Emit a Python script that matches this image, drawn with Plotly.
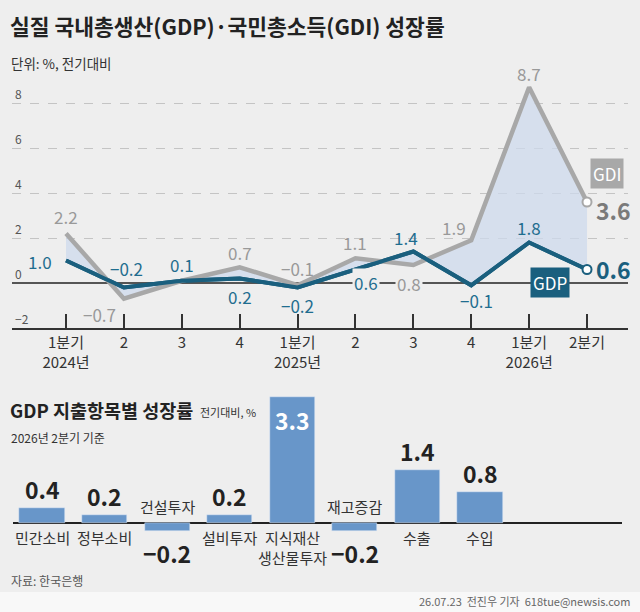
import plotly.graph_objects as go

# 데이터: 분기별 성장률 (전기대비, %)
QUARTERS = ["1분기<br>2024년", "2", "3", "4", "1분기<br>2025년", "2", "3", "4", "1분기<br>2026년", "2분기"]
GDP = [1.0, -0.2, 0.1, 0.2, -0.2, 0.6, 1.4, -0.1, 1.8, 0.6]
GDI = [2.2, -0.7, 0.1, 0.7, -0.1, 1.1, 0.8, 1.9, 8.7, 3.6]
Y_TICKS = [-2, 0, 2, 4, 6, 8]

# 지출항목별 성장률 (2026년 2분기)
ITEMS = ["민간소비", "정부소비", "건설투자", "설비투자", "지식재산<br>생산물투자", "재고증감", "수출", "수입"]
ITEM_VALUES = [0.4, 0.2, -0.2, 0.2, 3.3, -0.2, 1.4, 0.8]

BG = "#eeeeee"
GDP_C = "#1a5f7e"
GDP_TXT = "#1f6d8f"
GDI_C = "#a8a8a8"
GDI_TXT = "#999999"
BAR_C = "#6896c9"
KR = "Noto Sans CJK KR"
NUM = "Noto Sans CJK KR"

# 라벨 위치 오프셋 (xshift, yshift) - None이면 생략
GDI_OFF = [(0, 17), (-24, -16), None, (0, 15), (0, 17), (0, 16), (-4, -18), (-17, 13), (0, 14), None]
GDP_OFF = [(-26, -1), (3, 19), (0, 16), (0, -18), (0, -18), (11, -13), (-7, 14), (5, -15), (0, 15), None]

x_idx = list(range(len(QUARTERS)))

fig = go.Figure()
fig.add_trace(go.Scatter(x=x_idx, y=GDP, mode="lines", line=dict(color=GDP_C, width=4),
                         showlegend=False, hoverinfo="skip"))
fig.add_trace(go.Scatter(x=x_idx, y=GDI, mode="lines", line=dict(color=GDI_C, width=4.5),
                         fill="tonexty", fillcolor="rgba(205,218,236,0.75)",
                         showlegend=False, hoverinfo="skip"))
# GDP 선을 다시 위에 그림
fig.add_trace(go.Scatter(x=x_idx, y=GDP, mode="lines", line=dict(color=GDP_C, width=4),
                         showlegend=False, hoverinfo="skip"))
# 마지막 점 마커
fig.add_trace(go.Scatter(x=[x_idx[-1]], y=[GDI[-1]], mode="markers",
                         marker=dict(color="white", size=9, line=dict(color=GDI_C, width=2)),
                         showlegend=False, hoverinfo="skip"))
fig.add_trace(go.Scatter(x=[x_idx[-1]], y=[GDP[-1]], mode="markers",
                         marker=dict(color="white", size=9, line=dict(color=GDP_C, width=2)),
                         showlegend=False, hoverinfo="skip"))

# 막대그래프
bar_idx = list(range(len(ITEMS)))
fig.add_trace(go.Bar(x=bar_idx, y=ITEM_VALUES, marker_color=BAR_C, width=0.72,
                     xaxis="x2", yaxis="y2", showlegend=False, hoverinfo="skip"))

ann = []
for i, (v, off) in enumerate(zip(GDI, GDI_OFF)):
    if off is None:
        continue
    ann.append(dict(x=i, y=v, xref="x", yref="y", text=f"{v:.1f}".replace("-", "−"), showarrow=False,
                    xshift=off[0], yshift=off[1], font=dict(family=NUM, size=17, color=GDI_TXT),
                    bgcolor=BG if i == 6 else None))
for i, (v, off) in enumerate(zip(GDP, GDP_OFF)):
    if off is None:
        continue
    ann.append(dict(x=i, y=v, xref="x", yref="y", text=f"{v:.1f}".replace("-", "−"), showarrow=False,
                    xshift=off[0], yshift=off[1], font=dict(family=NUM, size=17, color=GDP_TXT),
                    bgcolor=BG if i == 5 else None))

# 끝 라벨
ann.append(dict(x=x_idx[-1], y=GDI[-1], xref="x", yref="y", text=f"<b>{GDI[-1]:.1f}</b>", showarrow=False,
                xanchor="left", xshift=7, yshift=-8, font=dict(family=NUM, size=23, color="#7a7a7a")))
ann.append(dict(x=x_idx[-1], y=GDP[-1], xref="x", yref="y", text=f"<b>{GDP[-1]:.1f}</b>", showarrow=False,
                xanchor="left", xshift=7, yshift=1, font=dict(family=NUM, size=23, color=GDP_C)))
ann.append(dict(x=x_idx[-1], y=GDI[-1], xref="x", yref="y", text="GDI", showarrow=False,
                xshift=20, yshift=29, font=dict(family=NUM, size=17, color="white"),
                bgcolor=GDI_C, borderpad=2))
ann.append(dict(x=x_idx[-1], y=GDP[-1], xref="x", yref="y", text="GDP", showarrow=False,
                xshift=-37, yshift=-13, font=dict(family=NUM, size=17, color="white"),
                bgcolor=GDP_C, borderpad=2))

# 막대 라벨
top = max(ITEM_VALUES)
for i, (name, v) in enumerate(zip(ITEMS, ITEM_VALUES)):
    txt = f"<b>{v:.1f}</b>".replace("-", "−")
    if v == top:
        ann.append(dict(x=i, y=v, xref="x2", yref="y2", text=txt, showarrow=False, yanchor="top",
                        yshift=-4, font=dict(family=NUM, size=23, color="white")))
    elif v >= 0:
        ann.append(dict(x=i, y=v, xref="x2", yref="y2", text=txt, showarrow=False, yanchor="bottom",
                        yshift=0, font=dict(family=NUM, size=23, color="#222")))
    else:
        ann.append(dict(x=i, y=v, xref="x2", yref="y2", text=txt, showarrow=False, yanchor="top",
                        yshift=-3, font=dict(family=NUM, size=23, color="#222")))
    ann.append(dict(x=i, y=0, xref="x2", yref="y2", text=name, showarrow=False,
                    yanchor="top" if v >= 0 else "bottom", yshift=-2 if v >= 0 else 4,
                    font=dict(family=KR, size=15, color="#333")))

# 제목 및 각종 텍스트
def ptxt(text, x, y, size, color="#222", xanchor="left", bold=False):
    return dict(text=f"<b>{text}</b>" if bold else text, x=x / 640, y=1 - y / 612, xref="paper", yref="paper",
                xanchor=xanchor, yanchor="middle", showarrow=False, font=dict(family=KR, size=size, color=color))

ann += [
    ptxt("실질 국내총생산(GDP)·국민총소득(GDI) 성장률", 8, 26, 21.5, bold=True),
    ptxt("단위: %, 전기대비", 9, 63, 13.5, "#333"),
    ptxt("GDP 지출항목별 성장률", 8, 410, 18.5, bold=True),
    ptxt("전기대비, %", 198, 412, 11, "#333"),
    ptxt("2026년 2분기 기준", 9, 437, 12, "#333"),
    ptxt("자료: 한국은행", 9, 580, 12, "#555"),
    ptxt("26.07.23  전진우 기자  618tue@newsis.com", 632, 601, 11, "#666", xanchor="right"),
]

fig.update_layout(
    width=640, height=612, margin=dict(l=0, r=0, t=0, b=0),
    paper_bgcolor=BG, plot_bgcolor="rgba(0,0,0,0)",
    annotations=ann, bargap=0,
    shapes=[dict(type="rect", xref="paper", yref="paper", x0=0, x1=1, y0=0, y1=1 - 592 / 612,
                 fillcolor="#f8f8f8", line_width=0, layer="below")],
    xaxis=dict(domain=[12 / 640, 628 / 640], range=[-0.933, 9.708], tickmode="array",
               tickvals=x_idx, ticktext=QUARTERS, ticks="inside", ticklen=14, tickwidth=2,
               tickcolor="#333", showline=True, linewidth=2, linecolor="#333", showgrid=False,
               zeroline=False, tickfont=dict(family=KR, size=15, color="#333"), fixedrange=True),
    yaxis=dict(domain=[1 - 328 / 612, 1 - 80 / 612], range=[-2, 9.022], tickmode="array",
               tickvals=Y_TICKS, ticklabelposition="inside top", showgrid=True, gridcolor="#c4c4c4",
               griddash="dash", gridwidth=1, zeroline=True, zerolinecolor="#555", zerolinewidth=1.5,
               tickfont=dict(family=NUM, size=12, color="#555"), fixedrange=True),
    xaxis2=dict(domain=[13 / 640, 622 / 640], range=[-0.4635, 9.269], anchor="y2",
                showticklabels=False, showgrid=False, zeroline=False, fixedrange=True),
    yaxis2=dict(domain=[1 - 565 / 612, 1 - 395 / 612], range=[-1.0995, 3.3508], anchor="x2",
                showticklabels=False, showgrid=False, zeroline=True, zerolinecolor="#222",
                zerolinewidth=1.5, fixedrange=True),
)

# 기본 body 여백 제거, 모드바 숨김
fig.write_html("out.html", config={"displayModeBar": False},
               post_script="document.body.style.margin='0';")
